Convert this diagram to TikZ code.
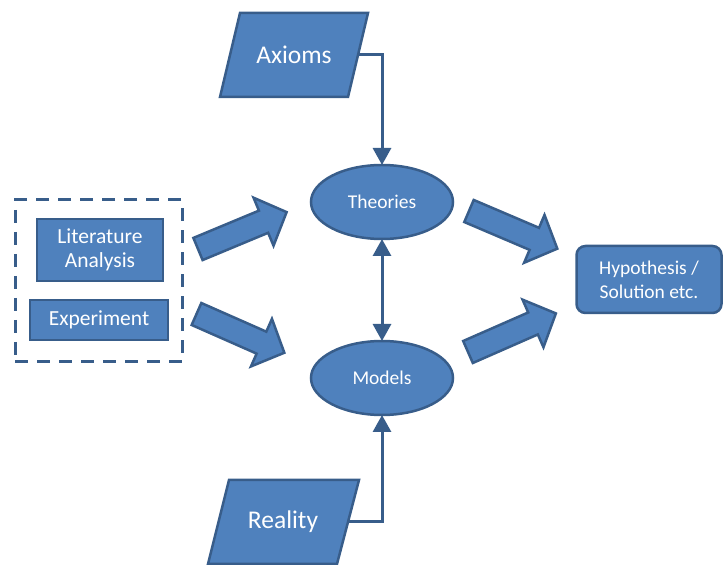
\documentclass[tikz,border=0pt]{standalone}
\usepackage{fontspec}
\setmainfont{Carlito}
\usetikzlibrary{arrows.meta,shapes.geometric,calc}
\definecolor{boxfill}{RGB}{79,129,189}
\definecolor{boxline}{RGB}{56,93,138}
\begin{document}
\begin{tikzpicture}[x=1pt,y=1pt,
  shapebox/.style={draw=boxline, fill=boxfill, line width=2.5pt, text=white,
    align=center, inner sep=0pt, outer sep=0pt},
  parashape/.style={draw=boxline, fill=boxfill, line width=2.5pt, line join=miter},
  bigtext/.style={text=white, font=\fontsize{25.5}{28}\selectfont, inner sep=0pt},
  midtext/.style={font=\fontsize{21.5}{24}\selectfont},
  smalltext/.style={font=\fontsize{19.5}{24}\selectfont},
  conn/.style={draw=boxline, line width=3pt, line join=miter,
    -{Triangle[length=17pt,width=18pt]}},
  fatarrow/.pic={\draw[draw=boxline, fill=boxfill, line width=2.5pt, line join=miter]
    (0,-12) -- (71,-12) -- (71,-26) -- (96,0) -- (71,26) -- (71,12) -- (0,12) -- cycle;}
]
\useasboundingbox (0,0) rectangle (723,565);

% grouped inputs
\node[draw=boxline, dash pattern=on 13pt off 9pt, line width=3pt,
  minimum width=167, minimum height=162, inner sep=0pt] (group) at (98.5,284) {};
\node[shapebox, midtext, minimum width=126, minimum height=62] (lit) at (100,315)
  {Literature\\Analysis};
\node[shapebox, midtext, minimum width=138, minimum height=40] (exp) at (99,245)
  {Experiment};

% central ellipses
\node[shapebox, smalltext, ellipse, minimum width=142, minimum height=74] (theo) at (382,363) {Theories};
\node[shapebox, smalltext, ellipse, minimum width=142, minimum height=74] (mod) at (382,187) {Models};

% result
\node[shapebox, smalltext, rounded corners=9pt, minimum width=145, minimum height=67] (hyp) at (649,285.5)
  {Hypothesis /\\Solution etc.};

% input parallelograms
\coordinate (axc) at (294,510);
\coordinate (rec) at (283,43);
\draw[parashape] ($(axc)+(-54,42)$) -- ($(axc)+(74,42)$) -- ($(axc)+(54,-42)$) -- ($(axc)+(-74,-42)$) -- cycle;
\node[bigtext] (axioms) at (axc) {Axioms};
\draw[parashape] ($(rec)+(-54,42)$) -- ($(rec)+(76,42)$) -- ($(rec)+(54,-42)$) -- ($(rec)+(-75,-42)$) -- cycle;
\node[bigtext] (reality) at (rec) {Reality};

\coordinate (axout) at ($(axc)+(63,0)$);
\coordinate (reout) at ($(rec)+(64,0)$);

% connectors
\draw[conn] (axout) -| (theo.north);
\draw[conn] (reout) -| (mod.south);
\draw[conn, {Triangle[length=17pt,width=18pt]}-{Triangle[length=17pt,width=18pt]}] (theo.south) -- (mod.north);

% block arrows
\pic[rotate=22.6] at (198,316) {fatarrow};
\pic[rotate=-23.8] at (196.5,251) {fatarrow};
\pic[rotate=-23.1] at (469,354) {fatarrow};
\pic[rotate=23.7] at (468,213) {fatarrow};
\end{tikzpicture}
\end{document}
